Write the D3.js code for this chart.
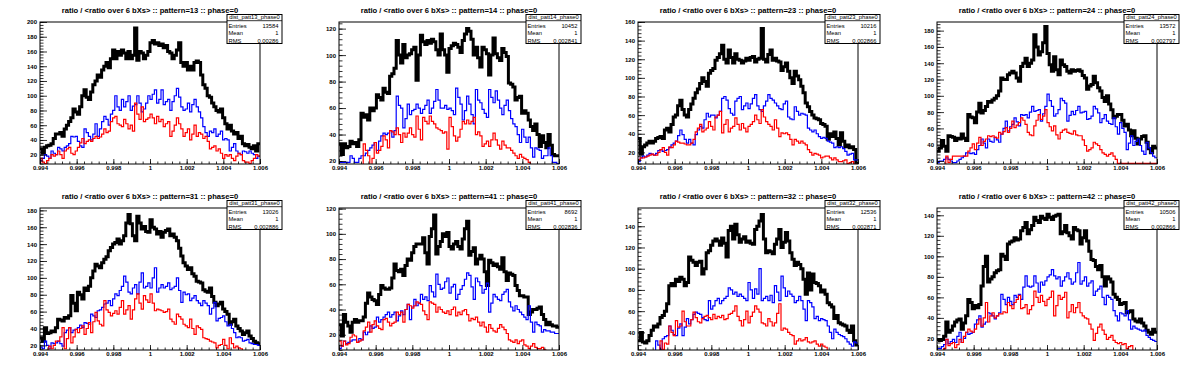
<!DOCTYPE html>
<html>
<head>
<meta charset="utf-8">
<script src="https://cdn.jsdelivr.net/npm/d3@7"></script>
<style>
  body { margin: 0; background: #fff; }
  svg { display: block; }
</style>
</head>
<body>
<div id="chart"></div>
<script>
// Histogram settings: 100 bins over [0.994, 1.006]
const xMin = 0.994, xMax = 1.006, nBins = 100;

const patterns = ["13", "14", "23", "24", "31", "41", "32", "42"];
const entries = [13584, 10452, 10216, 13572, 13026, 8692, 12536, 10506];
const meanValues = [1, 1, 1, 1, 1, 1, 1, 1];
const rmsValues = ["0.00286", "0.002841", "0.002866", "0.002797", "0.002886", "0.002836", "0.002871", "0.002866"];
const yDomains = [[7.4, 200], [17.75, 125], [7.5, 160], [16.3, 190.6], [14.5, 182.8], [7.9, 120.5], [23.4, 157.2], [8.7, 147.1]];
const xTicks = [0.994, 0.996, 0.998, 1, 1.002, 1.004, 1.006];
const xTickLabels = ["0.994", "0.996", "0.998", "1", "1.002", "1.004", "1.006"];

// bin contents per pattern: black (all), blue, red
const black13 = [28,22,30,32,33,35,42,48,48,50,45,55,60,65,70,82,78,75,85,100,108,98,95,105,115,120,128,125,135,140,145,138,150,162,150,160,155,162,158,150,160,150,155,192,148,160,158,150,155,160,172,175,170,172,168,170,165,168,160,158,150,155,162,172,145,140,145,135,140,135,145,147,145,128,115,110,100,98,90,85,80,78,82,70,62,55,60,52,48,50,42,45,35,32,34,30,28,32,25,35];
const blue13 = [12,15,20,18,15,25,22,20,30,28,25,30,32,35,45,44,45,38,32,30,55,50,45,40,48,62,45,55,65,72,68,60,75,80,100,85,80,95,85,92,100,80,86,88,100,90,78,82,90,100,95,102,108,90,95,108,88,92,95,80,92,100,110,98,85,80,82,90,78,88,95,85,78,70,58,50,45,52,50,55,45,48,52,40,42,40,25,30,35,25,22,20,25,24,22,25,22,20,15,18];
const red13 = [15,10,8,12,15,20,18,20,25,20,15,25,28,30,22,20,25,30,36,42,35,38,40,38,42,45,42,44,48,55,50,52,65,70,72,62,60,58,68,62,55,60,52,90,75,68,85,65,68,70,75,70,62,72,65,68,58,62,65,45,52,60,70,62,55,45,50,55,40,48,60,45,50,48,42,45,38,28,30,32,25,28,22,15,20,18,20,15,12,18,22,20,12,10,10,8,12,15,20,18];

const black14 = [33,25,33,30,31,35,33,34,31,36,56,53,55,51,60,58,60,70,68,66,75,72,71,84,86,90,111,100,94,108,98,100,101,104,106,81,100,115,110,108,111,109,112,110,104,100,116,104,100,87,105,107,109,108,106,102,111,116,120,118,112,100,106,98,91,106,104,101,85,100,113,101,98,96,105,102,99,79,78,76,66,68,69,56,58,56,51,46,43,48,40,31,39,34,30,40,32,25,24,24];
const blue14 = [19,19,19,19,19,24,22,19,19,22,24,24,26,28,30,32,34,28,35,39,41,40,41,43,38,43,69,62,60,45,52,63,55,58,59,63,60,56,59,62,66,56,60,65,74,66,60,60,62,59,60,58,55,75,68,63,51,58,69,63,55,48,74,66,64,59,56,53,74,68,64,73,66,60,55,62,66,58,52,48,46,40,34,44,38,34,38,30,23,30,29,28,22,24,24,30,24,19,19,18];
const red14 = [12,12,12,12,12,12,12,12,14,10,16,33,28,24,17,22,34,26,28,31,39,36,30,43,42,40,45,40,34,41,38,41,45,40,38,54,44,36,53,50,48,54,50,48,45,44,43,41,42,29,53,46,39,35,38,44,50,48,51,48,50,53,40,42,39,31,33,35,31,36,41,36,32,29,35,32,30,30,28,26,24,22,25,23,22,21,19,16,14,12,10,14,12,12,12,12,12,12,12,12];

const black23 = [35,18,26,28,30,32,30,32,35,36,37,35,44,46,42,50,58,60,70,76,66,60,58,66,72,78,84,88,94,100,96,91,105,108,110,119,122,126,135,120,116,130,122,116,126,120,119,116,118,121,119,122,123,117,120,121,153,120,117,125,130,119,121,118,117,108,112,116,107,100,94,107,102,98,91,84,73,69,64,60,57,56,55,51,50,48,34,40,37,42,35,28,41,32,26,28,25,26,23,8];
const blue23 = [10,14,16,15,17,19,18,17,19,22,23,21,22,23,25,28,30,32,38,44,39,34,30,34,30,28,39,44,48,46,55,62,58,60,60,57,60,64,78,80,76,67,62,60,75,78,80,66,70,73,67,72,78,82,70,66,64,70,75,82,78,76,73,70,67,66,72,75,58,56,55,69,64,60,62,61,60,46,44,42,44,40,37,35,36,35,32,31,30,25,26,25,26,24,21,17,18,19,12,12];
const red23 = [12,14,14,15,16,17,18,17,17,20,23,25,20,17,26,25,28,32,31,30,30,29,28,28,30,34,42,46,50,42,44,46,53,48,44,58,60,64,41,50,55,42,46,48,57,50,44,51,46,42,48,50,53,60,55,51,66,58,53,50,48,44,55,46,37,41,40,41,39,34,28,34,32,30,32,30,28,23,20,17,19,18,17,14,15,16,16,14,12,14,12,10,10,11,12,8,9,10,7,7];

const black24 = [32,36,45,38,32,51,50,49,45,48,47,53,48,45,77,74,73,67,80,91,79,82,87,93,92,95,97,100,106,122,120,120,126,128,130,128,122,118,136,140,146,136,140,144,175,160,150,154,165,185,152,138,130,148,132,126,144,138,136,130,128,132,130,131,132,130,125,122,108,112,114,124,116,110,106,98,93,100,90,83,73,75,77,77,70,63,65,58,51,57,48,41,47,50,51,43,35,30,38,36];
const blue24 = [18,20,20,22,24,22,20,18,18,20,22,24,26,30,30,29,30,28,34,39,47,42,36,47,44,43,49,46,43,53,60,69,57,62,65,73,68,63,77,76,77,73,80,87,81,82,83,69,78,87,102,94,87,75,78,83,97,94,91,69,76,81,77,82,87,79,80,81,71,72,75,87,84,79,67,72,77,69,66,65,73,62,53,67,60,55,34,42,51,39,44,47,39,32,28,43,36,30,26,24];
const red24 = [12,12,14,13,26,18,22,26,26,26,26,26,26,26,32,36,41,34,42,49,39,44,47,51,50,51,49,48,55,53,56,61,55,60,69,61,64,67,73,70,65,55,52,51,63,70,77,71,75,83,67,62,57,63,52,47,55,58,59,55,54,53,57,52,51,51,46,39,32,34,36,43,41,39,34,30,28,26,28,30,26,22,17,17,17,17,17,17,17,17,17,17,17,17,17,17,17,17,17,17];

const black31 = [29,25,41,34,35,37,36,41,51,50,49,53,52,55,79,70,61,83,80,75,88,85,90,100,108,116,114,112,118,122,125,132,136,140,142,146,140,144,150,165,175,164,150,144,173,165,158,161,155,154,169,160,158,152,155,148,154,156,158,150,152,148,144,135,126,118,114,110,112,105,102,96,95,94,86,84,83,88,78,71,67,69,71,63,60,57,45,48,51,43,40,37,33,35,37,31,28,25,23,22];
const blue31 = [18,16,25,20,16,23,22,23,25,22,19,35,38,41,35,38,39,41,44,41,47,46,45,57,55,53,61,62,65,69,70,73,67,75,81,79,85,90,102,95,83,81,88,92,81,95,106,88,90,94,88,100,112,83,88,92,88,90,94,86,88,90,100,85,71,83,80,81,73,76,79,73,70,67,73,70,67,57,64,71,49,52,53,55,48,43,45,40,35,29,30,29,25,26,27,23,22,21,21,20];
const red31 = [12,12,12,14,19,16,20,25,25,30,41,16,28,41,23,30,39,35,40,43,33,40,47,35,48,59,49,45,43,73,62,59,55,58,61,57,65,73,57,62,67,51,62,75,81,70,63,79,74,71,81,70,61,63,62,61,59,60,63,51,48,45,57,54,51,45,43,41,51,40,33,43,41,39,29,28,27,25,24,23,17,20,21,27,20,16,29,22,17,19,17,16,12,12,12,12,12,12,12,12];

const black41 = [28,19,36,30,27,22,30,32,30,31,31,34,45,53,50,48,47,44,52,59,57,56,56,57,65,76,71,70,72,67,75,80,79,85,90,92,92,92,97,85,76,98,104,115,84,90,94,100,98,101,90,88,92,94,90,88,96,104,110,83,86,89,76,80,83,80,70,59,79,77,75,76,74,72,81,70,63,69,68,67,59,55,51,51,50,50,36,38,40,40,41,42,36,32,28,30,28,27,27,26];
const blue41 = [9,11,15,13,14,15,16,16,14,17,16,22,20,22,27,25,26,34,30,32,34,36,38,34,36,38,31,35,39,36,40,44,32,42,48,43,45,52,48,50,47,59,54,50,68,60,56,57,62,65,53,58,60,48,52,56,59,64,69,67,58,48,65,62,59,53,56,61,38,45,52,50,48,47,52,54,56,46,42,39,43,40,38,36,34,32,43,30,22,30,28,27,22,24,23,23,22,22,21,21];
const red41 = [15,11,15,12,13,18,20,19,14,15,16,23,26,30,22,28,31,27,25,24,32,33,30,27,29,30,38,36,38,30,40,44,43,41,43,46,45,44,39,36,32,46,45,44,38,42,40,38,37,39,36,40,42,35,38,36,39,40,36,31,33,32,34,30,27,30,26,22,28,25,23,22,25,28,26,24,21,16,15,14,16,13,15,16,12,11,9,11,13,10,9,9,10,8,7,7,7,7,7,7];

const black32 = [32,40,31,30,32,37,42,46,45,48,54,56,60,67,84,86,84,90,88,92,90,84,87,111,108,106,103,106,107,95,100,115,117,122,126,128,126,122,129,124,111,136,140,128,142,132,125,128,130,125,126,124,123,137,140,145,151,128,115,117,116,114,123,128,137,120,125,134,126,115,109,103,106,104,100,90,76,96,80,95,87,86,84,78,80,76,68,66,64,53,56,49,48,47,46,42,40,46,32,28];
const blue32 = [20,20,20,20,20,20,20,20,32,28,24,34,36,37,46,42,38,37,44,48,37,45,53,48,52,57,59,58,57,54,52,51,70,62,65,70,72,67,70,72,74,82,80,76,78,74,76,74,72,70,87,80,72,81,76,100,70,72,74,70,75,68,84,78,70,93,82,74,79,76,74,68,70,74,70,62,51,70,68,64,53,55,51,53,52,51,46,40,34,43,40,38,37,36,34,31,29,27,31,30];
const red32 = [20,20,20,20,20,20,20,20,20,20,32,24,30,29,46,40,37,51,45,46,60,50,46,46,52,59,54,50,49,53,55,56,54,52,57,53,55,54,56,52,53,57,58,60,65,55,51,46,52,60,49,55,59,65,62,59,49,48,46,53,50,46,49,58,67,42,44,43,40,38,37,29,32,34,32,33,35,31,30,31,32,29,27,29,27,26,20,20,20,20,20,20,20,20,20,20,20,20,20,20];

const black42 = [19,18,19,22,36,26,28,32,36,38,39,29,35,42,58,55,49,52,50,53,71,90,100,75,78,80,84,86,87,102,100,97,112,114,115,118,116,117,125,128,133,122,126,130,138,135,133,139,137,136,141,138,136,139,140,141,122,124,130,123,120,117,128,126,125,112,118,125,115,105,97,96,90,87,91,80,71,80,78,75,63,60,58,53,54,55,45,46,47,39,37,36,39,35,32,28,26,24,29,26];
const blue42 = [10,10,12,14,19,15,17,19,16,22,26,16,20,26,24,25,26,34,38,42,31,34,36,45,44,42,39,42,45,63,58,53,60,56,53,62,60,63,58,70,81,71,70,71,81,74,65,75,72,76,80,82,87,81,78,80,71,76,80,84,78,73,75,84,94,73,76,80,71,74,76,62,66,68,71,60,53,62,60,58,47,42,37,45,44,42,47,38,29,32,30,29,28,27,28,23,21,19,18,17];
const red42 = [7,7,7,10,19,13,15,16,11,14,19,16,22,26,29,27,26,29,34,39,32,40,55,36,42,45,40,42,44,44,46,45,55,52,49,55,58,62,49,50,53,44,48,52,66,60,55,62,56,52,58,60,66,42,52,62,58,60,65,40,46,53,45,50,55,45,42,40,39,34,29,18,25,31,34,28,24,19,21,23,18,16,15,16,14,15,10,12,13,7,7,7,7,7,7,7,7,7,7,7];

const blackSeries = [black13, black14, black23, black24, black31, black41, black32, black42];
const blueSeries = [blue13, blue14, blue23, blue24, blue31, blue41, blue32, blue42];
const redSeries = [red13, red14, red23, red24, red31, red41, red32, red42];

// Layout
const W = 1196, H = 372, cols = 4;
const panelW = 299, panelH = 186;
const frame = { left: 40, right: 260, top: 22, bottom: 164 };
const font = "'Liberation Sans', Arial, Helvetica, sans-serif";

const svg = d3.select("#chart").append("svg").attr("width", W).attr("height", H);
svg.append("rect").attr("width", W).attr("height", H).attr("fill", "#fff");

const x = d3.scaleLinear().domain([xMin, xMax]).range([frame.left, frame.right]);
const binWidth = (xMax - xMin) / nBins;

// turn bin contents into staircase points
function steps(values) {
  const pts = [];
  values.forEach((v, i) => {
    pts.push([xMin + i * binWidth, v]);
    pts.push([xMin + (i + 1) * binWidth, v]);
  });
  return pts;
}

patterns.forEach((pat, p) => {
  const col = p % cols, row = Math.floor(p / cols);
  const g = svg.append("g").attr("transform", `translate(${col * panelW},${row * panelH})`);
  const y = d3.scaleLinear().domain(yDomains[p]).range([frame.bottom, frame.top]);

  const clipId = `clip-${p}`;
  g.append("clipPath").attr("id", clipId)
    .append("rect")
    .attr("x", frame.left).attr("y", frame.top)
    .attr("width", frame.right - frame.left).attr("height", frame.bottom - frame.top);

  const line = d3.line().x((d) => x(d[0])).y((d) => y(d[1]));
  const plot = g.append("g").attr("clip-path", `url(#${clipId})`);
  plot.append("path").attr("d", line(steps(blackSeries[p])))
    .attr("fill", "none").attr("stroke", "#000").attr("stroke-width", 3).attr("stroke-linejoin", "miter");
  plot.append("path").attr("d", line(steps(blueSeries[p])))
    .attr("fill", "none").attr("stroke", "#0000ff").attr("stroke-width", 1.2);
  plot.append("path").attr("d", line(steps(redSeries[p])))
    .attr("fill", "none").attr("stroke", "#ff0000").attr("stroke-width", 1.2);

  // axes: ticks point inside the frame, as ROOT draws them
  const xMinor = d3.range(0, 31).map((k) => xMin + k * 0.0004);
  g.append("g").attr("transform", `translate(0,${frame.bottom})`)
    .call(d3.axisBottom(x).tickValues(xMinor).tickSize(-2.5).tickFormat(""))
    .call((a) => a.select(".domain").remove());
  g.append("g").attr("class", "xaxis").attr("transform", `translate(0,${frame.bottom})`)
    .call(d3.axisBottom(x).tickValues(xTicks).tickSize(-5).tickPadding(2)
      .tickFormat((d, i) => xTickLabels[i]))
    .call((a) => a.select(".domain").remove());

  const [y0, y1] = yDomains[p];
  const yMajor = d3.range(Math.ceil(y0 / 20) * 20, y1 + 0.001, 20);
  const yMinor = d3.range(Math.ceil(y0 / 4) * 4, y1 + 0.001, 4);
  g.append("g").attr("transform", `translate(${frame.left},0)`)
    .call(d3.axisLeft(y).tickValues(yMinor).tickSize(-3.5).tickFormat(""))
    .call((a) => a.select(".domain").remove());
  g.append("g").attr("class", "yaxis").attr("transform", `translate(${frame.left},0)`)
    .call(d3.axisLeft(y).tickValues(yMajor).tickSize(-7).tickPadding(3).tickFormat(d3.format("d")))
    .call((a) => a.select(".domain").remove());

  g.selectAll(".tick line").attr("stroke", "#000").attr("stroke-width", 0.8);
  g.selectAll(".xaxis text, .yaxis text")
    .attr("font-family", font).attr("font-size", 6).attr("font-weight", "bold").attr("fill", "#000");

  // frame
  g.append("rect")
    .attr("x", frame.left).attr("y", frame.top)
    .attr("width", frame.right - frame.left).attr("height", frame.bottom - frame.top)
    .attr("fill", "none").attr("stroke", "#000").attr("stroke-width", 1);

  // title
  g.append("text")
    .attr("x", 150).attr("y", 12.5).attr("text-anchor", "middle")
    .attr("font-family", font).attr("font-size", 7.6).attr("font-weight", "bold")
    .text(`ratio / <ratio over 6 bXs> :: pattern=${pat} :: phase=0`);

  // stats box
  const sb = { x: 227, y: 14.5, w: 55, h: 29 };
  const stats = g.append("g").attr("font-family", font).attr("font-size", 5.8).attr("fill", "#000");
  stats.append("rect").attr("x", sb.x).attr("y", sb.y).attr("width", sb.w).attr("height", sb.h)
    .attr("fill", "#fff").attr("stroke", "#000").attr("stroke-width", 1);
  stats.append("line").attr("x1", sb.x).attr("x2", sb.x + sb.w).attr("y1", 20.7).attr("y2", 20.7)
    .attr("stroke", "#000").attr("stroke-width", 0.8);
  stats.append("text").attr("x", sb.x + sb.w / 2).attr("y", 19.4).attr("text-anchor", "middle")
    .text(`dist_patt${pat}_phase0`);
  const rows = [["Entries", entries[p]], ["Mean", meanValues[p]], ["RMS", rmsValues[p]]];
  rows.forEach(([label, val], r) => {
    const ty = 28 + r * 7.3;
    stats.append("text").attr("x", sb.x + 1.5).attr("y", ty).text(label);
    stats.append("text").attr("x", sb.x + sb.w - 3.5).attr("y", ty).attr("text-anchor", "end").text(val);
  });
});
</script>
</body>
</html>
